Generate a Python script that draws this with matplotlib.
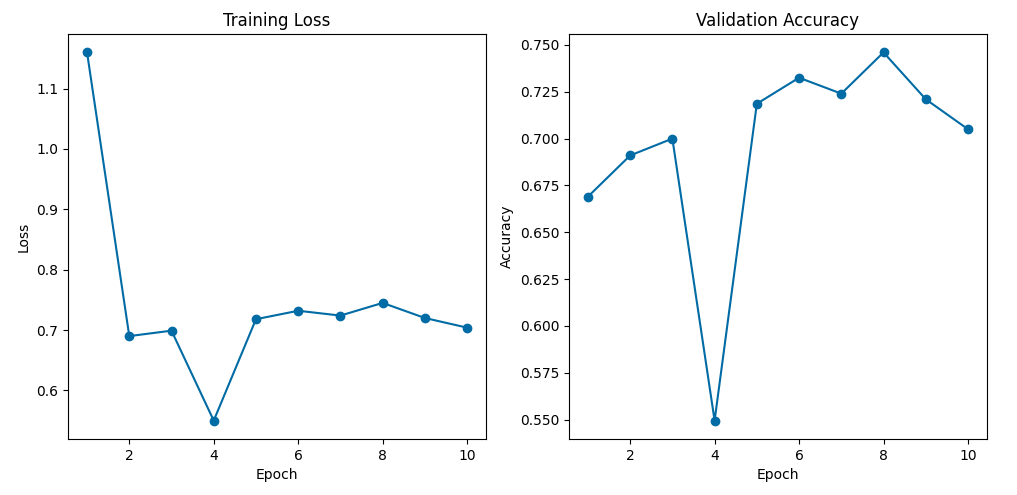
import matplotlib
matplotlib.use("Agg")
from matplotlib import pyplot as plt

plt.style.use('tableau-colorblind10')

epochs = [1, 2, 3, 4, 5, 6, 7, 8, 9, 10]
train_loss = [1.160, 0.690, 0.699, 0.550, 0.718, 0.732, 0.724, 0.745, 0.720, 0.704]
val_acc = [0.669, 0.691, 0.700, 0.5495, 0.7186, 0.7325, 0.724, 0.746, 0.721, 0.705]

fig, (ax1, ax2) = plt.subplots(1, 2, figsize=(10.17, 4.95), dpi=100)

ax1.plot(epochs, train_loss, marker='o')
ax1.set_title("Training Loss")
ax1.set_xlabel("Epoch")
ax1.set_ylabel("Loss")

ax2.plot(epochs, val_acc, marker='o')
ax2.set_title("Validation Accuracy")
ax2.set_xlabel("Epoch")
ax2.set_ylabel("Accuracy")

plt.subplots_adjust(left=0.0669, right=0.9705, top=0.9313, bottom=0.1131, wspace=0.198)
plt.savefig("out.png")
